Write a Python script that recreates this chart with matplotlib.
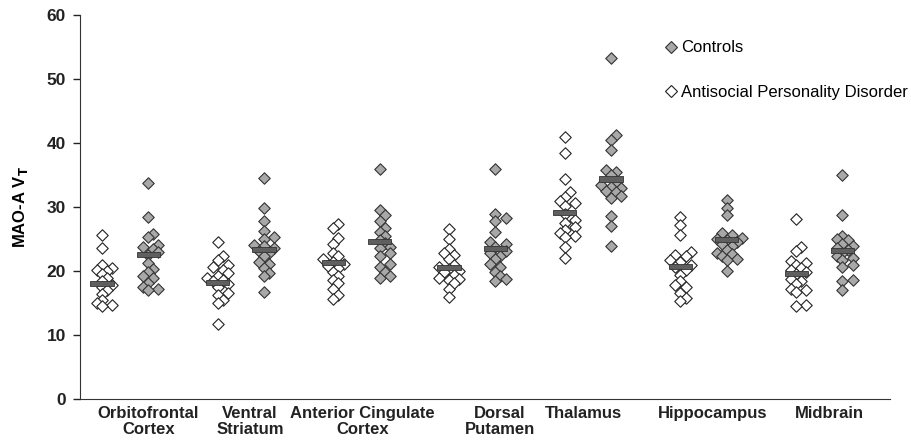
import numpy as np
import matplotlib.pyplot as plt
from matplotlib.lines import Line2D

plt.rcParams['font.family'] = ['Liberation Sans', 'DejaVu Sans']

# Data
regions = ["Orbitofrontal\nCortex", "Ventral\nStriatum", "Anterior Cingulate\nCortex",
           "Dorsal\nPutamen", "Thalamus", "Hippocampus", "Midbrain"]

aspd = [
    [25.7, 23.6, 20.9, 20.5, 20.2, 20.0, 19.5, 19.0, 18.5, 17.8, 17.5, 17.0, 16.5, 15.5, 15.0, 14.8, 14.5],
    [24.5, 22.3, 21.7, 21.0, 20.6, 20.2, 19.7, 19.3, 19.0, 18.7, 18.4, 18.0, 17.6, 16.6, 16.3, 15.5, 15.0, 11.8],
    [27.4, 26.8, 25.2, 24.3, 22.8, 22.3, 21.9, 21.5, 21.2, 20.8, 20.5, 19.8, 19.2, 18.6, 18.1, 17.3, 16.3, 15.6],
    [26.6, 25.0, 23.5, 22.9, 22.6, 21.9, 21.0, 20.7, 20.3, 20.0, 19.8, 19.4, 19.0, 18.75, 18.6, 18.1, 17.3, 15.9],
    [40.9, 38.4, 34.4, 32.4, 31.6, 31.0, 30.6, 30.2, 29.0, 28.0, 27.6, 26.9, 26.5, 25.9, 25.5, 25.3, 23.8, 22.0],
    [28.5, 27.2, 25.7, 23.0, 22.6, 22.3, 21.8, 21.5, 21.0, 20.6, 20.2, 19.4, 18.4, 17.8, 17.5, 16.6, 15.8, 15.3],
    [28.1, 23.8, 23.1, 21.6, 21.3, 21.0, 20.5, 20.2, 19.9, 19.6, 18.8, 18.5, 18.0, 17.2, 17.0, 16.7, 14.8, 14.5],
]
controls = [
    [33.7, 28.4, 25.8, 25.3, 24.1, 23.8, 23.5, 23.0, 22.6, 21.3, 20.3, 19.8, 19.3, 19.0, 18.2, 17.6, 17.2, 17.0],
    [34.5, 29.9, 27.9, 26.3, 25.4, 25.0, 24.1, 23.9, 23.6, 23.2, 22.8, 22.3, 21.5, 21.1, 20.5, 19.7, 19.2, 16.7],
    [36.0, 29.5, 28.8, 27.9, 26.7, 26.2, 25.5, 24.9, 24.4, 23.8, 23.6, 22.8, 22.4, 21.1, 20.7, 19.9, 19.3, 19.0],
    [36.0, 29.0, 28.3, 27.9, 26.2, 24.6, 24.2, 23.8, 23.2, 22.8, 22.4, 21.9, 21.1, 20.7, 19.9, 19.3, 18.8, 18.5],
    [53.3, 41.3, 40.5, 39.0, 35.8, 35.5, 35.0, 34.0, 33.4, 33.2, 33.0, 32.6, 32.3, 31.7, 31.4, 28.6, 27.0, 24.0],
    [31.1, 29.8, 28.8, 26.0, 25.6, 25.2, 25.0, 24.8, 24.6, 24.3, 24.0, 23.3, 22.9, 22.7, 22.3, 21.9, 21.7, 20.1],
    [35.0, 28.7, 25.5, 25.0, 24.8, 24.2, 24.0, 23.6, 23.3, 22.8, 22.3, 22.0, 21.8, 21.0, 20.7, 18.7, 18.5, 17.0],
]
aspd_means = [18.1, 18.3, 21.35, 20.55, 29.2, 20.8, 19.7]
control_means = [22.65, 23.4, 24.6, 23.6, 34.4, 24.9, 23.3]

label_shift = [0.2, 0.08, 0.05, 0.24, -0.04, 0.08, 0.09]


def swarm(values, px_x=115.7, px_y=6.4, gap=6.0, kmax=3):
    # simple beeswarm: nearest free horizontal slot, else the least crowded one
    placed = []
    offs = np.zeros(len(values))
    order = np.argsort(values)
    slots = [0]
    for k in range(1, kmax + 1):
        slots += [k, -k]
    for idx in order:
        y = values[idx] * px_y
        best, best_d = 0.0, -1
        for k in slots:
            x = k * gap * 0.85
            d = min([np.hypot(x - px, y - py) for px, py in placed] or [99])
            if d >= gap:
                best = x
                break
            if d > best_d:
                best, best_d = x, d
        placed.append((best, y))
        offs[idx] = best / px_x
    return offs


fig = plt.figure(figsize=(9.12, 4.47), dpi=100)
ax = fig.add_axes([0.0877, 0.1067, 0.888, 0.8597])

for i in range(len(regions)):
    w = np.array(aspd[i])
    g = np.array(controls[i])
    ax.scatter(i - 0.2 + swarm(w), w, marker='D', s=34, facecolor='white',
               edgecolor='#222222', linewidth=0.8, zorder=2)
    ax.scatter(i + 0.2 + swarm(g), g, marker='D', s=34, facecolor='#a8a8a8',
               edgecolor='#333333', linewidth=0.8, zorder=2)
    ax.bar(i - 0.2, 0.8, bottom=aspd_means[i] - 0.4, width=0.2,
           color='#5f5f5f', edgecolor='#333333', linewidth=0.6, zorder=3)
    ax.bar(i + 0.2, 0.8, bottom=control_means[i] - 0.4, width=0.2,
           color='#5f5f5f', edgecolor='#333333', linewidth=0.6, zorder=3)

ax.set_xlim(-0.39, 6.61)
ax.set_ylim(0, 60)
ax.set_yticks(range(0, 61, 10))
ax.set_xticks([i + s for i, s in enumerate(label_shift)])
ax.set_xticklabels(regions, fontweight='bold', fontsize=12, color='#222222',
                   linespacing=1.1)
ax.tick_params(axis='x', length=0, pad=5)
ax.tick_params(axis='y', length=5, width=1, colors='#222222', labelsize=12.5, pad=5)
for t in ax.get_yticklabels():
    t.set_fontweight('bold')
ax.spines['top'].set_visible(False)
ax.spines['right'].set_visible(False)
ax.spines['left'].set_color('#333333')
ax.spines['bottom'].set_color('#333333')
ax.set_ylabel('MAO-A V$_\\mathbf{T}$', fontweight='bold', fontsize=12, labelpad=12)

handles = [
    Line2D([], [], marker='D', linestyle='none', markersize=6, markerfacecolor='#a8a8a8',
           markeredgecolor='#333333', markeredgewidth=0.8),
    Line2D([], [], marker='D', linestyle='none', markersize=6, markerfacecolor='white',
           markeredgecolor='#222222', markeredgewidth=0.8),
]
ax.legend(handles, ['Controls', 'Antisocial Personality Disorder'], loc='upper left',
          bbox_to_anchor=(0.701, 0.973), frameon=False, fontsize=12,
          labelspacing=1.75, handletextpad=0.1, handlelength=1.0)

fig.savefig('out.png', dpi=100)
